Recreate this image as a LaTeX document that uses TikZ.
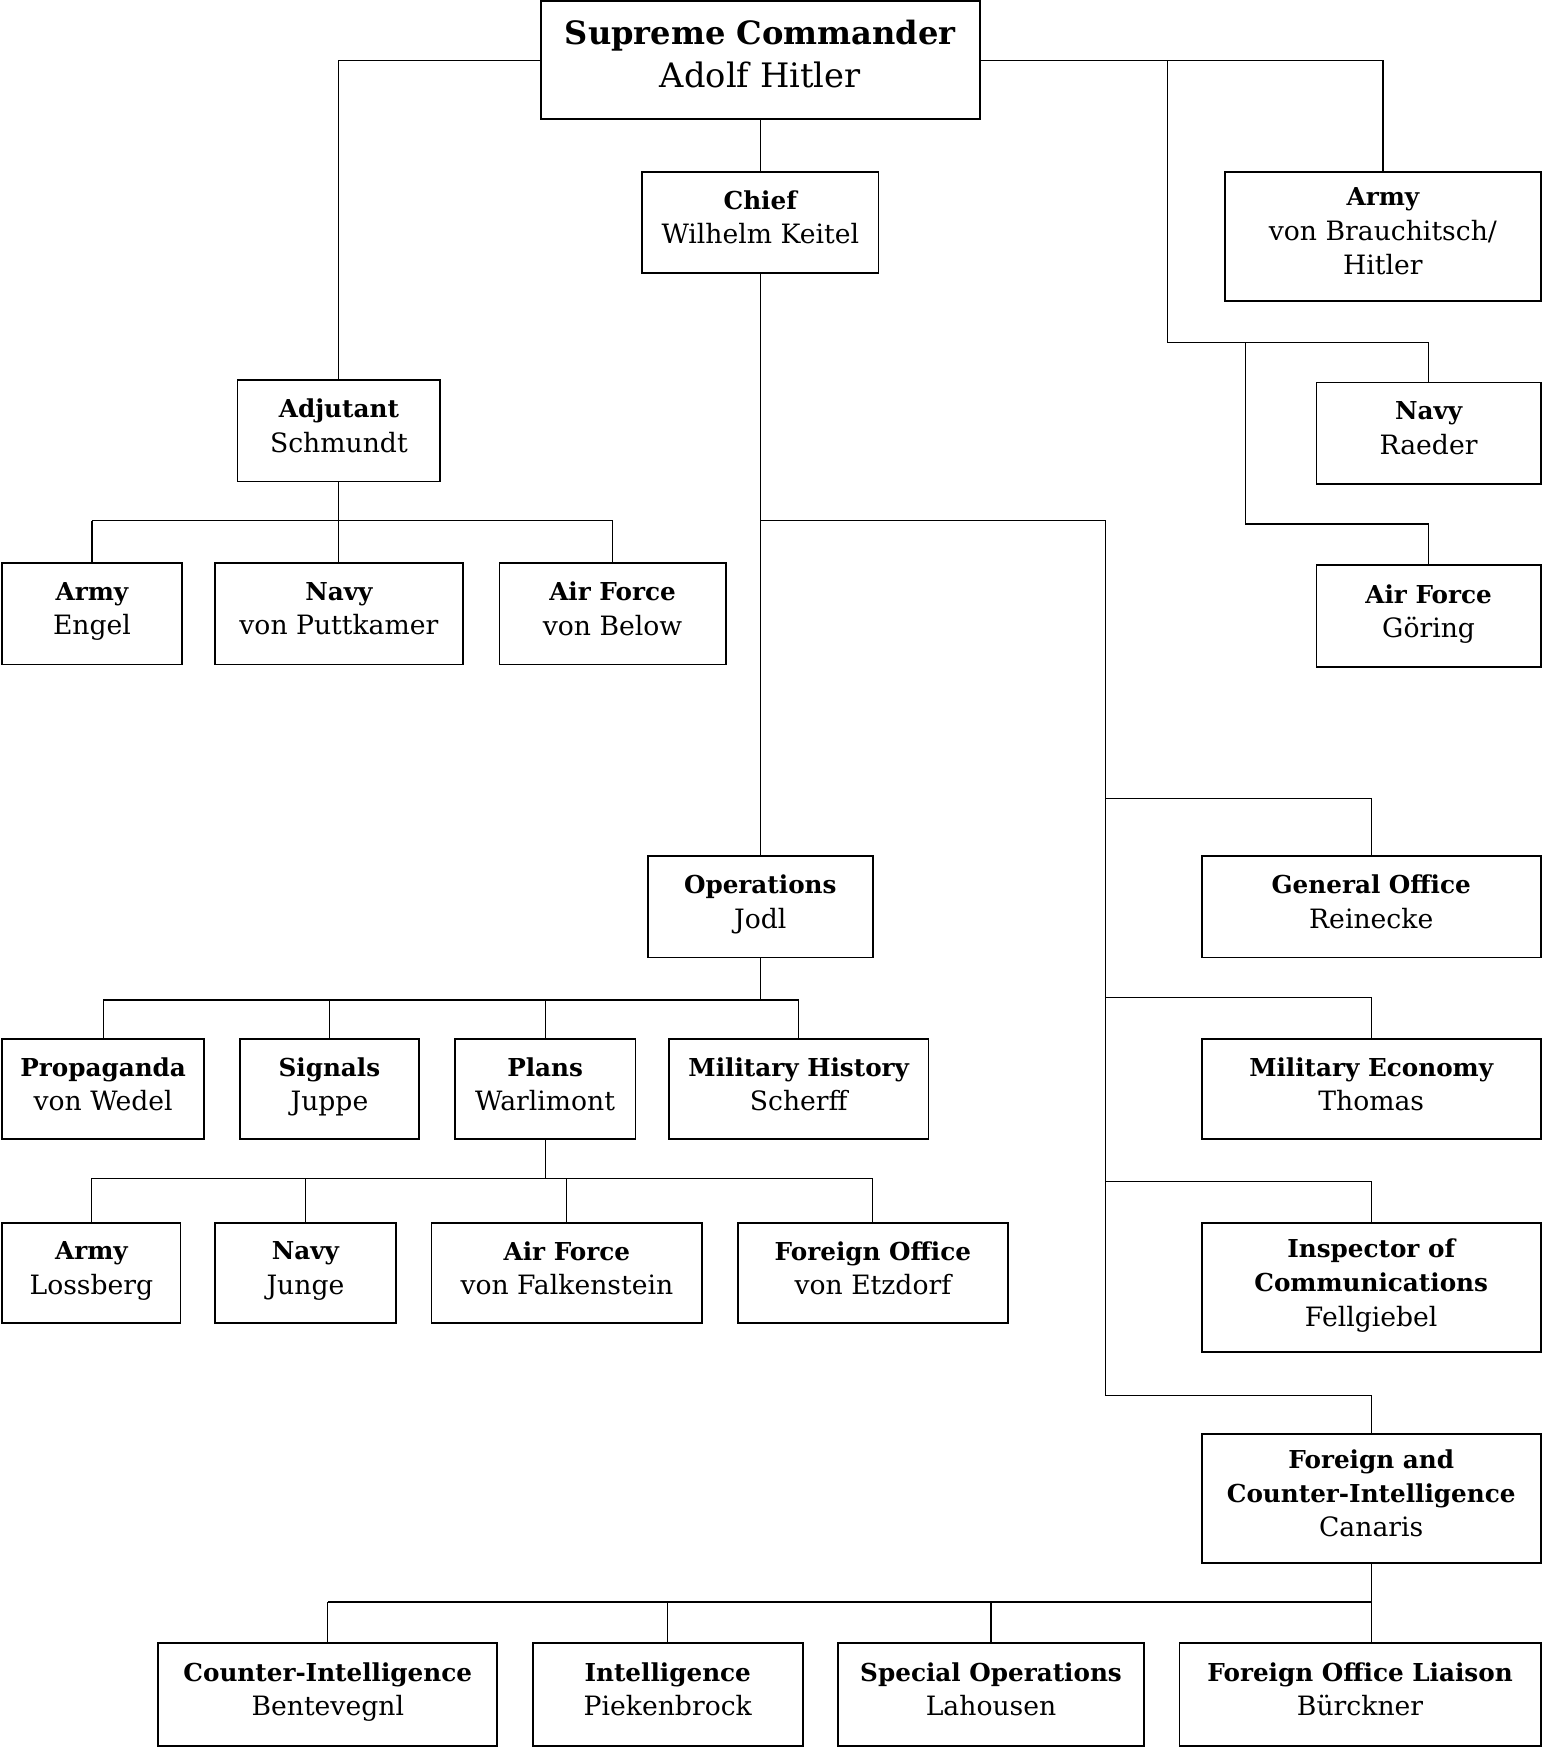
\documentclass[tikz,border=0pt]{standalone}
\usepackage{fontspec}
\setmainfont{DejaVu Serif}
\newcommand{\dept}[1]{{\fontsize{12.6}{17.5}\selectfont\bfseries #1}}
\tikzset{
  office/.style={draw, line width=0.9pt, align=center, inner sep=0pt,
    font=\fontsize{13.6}{17.5}\selectfont,
    execute at begin node=\strut, execute at end node=\strut},
  wire/.style={line width=0.6pt}
}
\begin{document}
\begin{tikzpicture}[x=0.02cm, y=-0.02cm]
\useasboundingbox (0,0) rectangle (1384,1568);

% Top level
\node[office, minimum width=7.88cm, minimum height=2.12cm, font=\fontsize{17.2}{22}\selectfont] (sup) at (682,54) {{\fontsize{16.4}{22}\selectfont\bfseries Supreme Commander}\\Adolf Hitler};
\node[office, minimum width=4.24cm, minimum height=1.82cm] (chief) at (682,199.5) {\dept{Chief}\\Wilhelm Keitel};
\node[office, minimum width=5.66cm, minimum height=2.32cm] (army) at (1240.5,212) {\dept{Army}\\von Brauchitsch/\\Hitler};
\node[office, minimum width=3.64cm, minimum height=1.82cm] (adj) at (304,386.5) {\dept{Adjutant}\\Schmundt};
\node[office, minimum width=4.02cm, minimum height=1.82cm] (navy) at (1281.5,388.5) {\dept{Navy}\\Raeder};
\node[office, minimum width=4.02cm, minimum height=1.82cm] (luft) at (1281.5,552.5) {\dept{Air Force}\\Göring};

% Adjutants
\node[office, minimum width=3.22cm, minimum height=1.82cm] (engel) at (82.5,550.5) {\dept{Army}\\Engel};
\node[office, minimum width=4.46cm, minimum height=1.82cm] (putt) at (304,550.5) {\dept{Navy}\\von Puttkamer};
\node[office, minimum width=4.06cm, minimum height=1.82cm] (below) at (549.5,550.5) {\dept{Air Force}\\von Below};

% Operations
\node[office, minimum width=4.04cm, minimum height=1.82cm] (jodl) at (682,813.5) {\dept{Operations}\\Jodl};
\node[office, minimum width=3.62cm, minimum height=1.80cm] (wedel) at (92.5,977) {\dept{Propaganda}\\von Wedel};
\node[office, minimum width=3.22cm, minimum height=1.80cm] (juppe) at (295.5,977) {\dept{Signals}\\Juppe};
\node[office, minimum width=3.24cm, minimum height=1.80cm] (warl) at (489,977) {\dept{Plans}\\Warlimont};
\node[office, minimum width=4.66cm, minimum height=1.80cm] (scherff) at (716.5,977) {\dept{Military History}\\Scherff};
\node[office, minimum width=3.20cm, minimum height=1.80cm] (loss) at (82,1142) {\dept{Army}\\Lossberg};
\node[office, minimum width=3.24cm, minimum height=1.80cm] (junge) at (274,1142) {\dept{Navy}\\Junge};
\node[office, minimum width=4.86cm, minimum height=1.80cm] (falk) at (508.5,1142) {\dept{Air Force}\\von Falkenstein};
\node[office, minimum width=4.84cm, minimum height=1.80cm] (etz) at (783,1142) {\dept{Foreign Office}\\von Etzdorf};

% Staff offices
\node[office, minimum width=6.08cm, minimum height=1.82cm] (rein) at (1230,813.5) {\dept{General Office}\\Reinecke};
\node[office, minimum width=6.08cm, minimum height=1.80cm] (thomas) at (1230,977) {\dept{Military Economy}\\Thomas};
\node[office, minimum width=6.08cm, minimum height=2.32cm] (fell) at (1230,1155) {\dept{Inspector of}\\\dept{Communications}\\Fellgiebel};
\node[office, minimum width=6.08cm, minimum height=2.32cm] (canaris) at (1230,1344) {\dept{Foreign and}\\\dept{Counter-Intelligence}\\Canaris};

% Abwehr
\node[office, minimum width=6.08cm, minimum height=1.84cm] (bent) at (294,1520) {\dept{Counter-Intelligence}\\Bentevegnl};
\node[office, minimum width=4.84cm, minimum height=1.84cm] (pieken) at (599,1520) {\dept{Intelligence}\\Piekenbrock};
\node[office, minimum width=5.48cm, minimum height=1.84cm] (lah) at (889,1520) {\dept{Special Operations}\\Lahousen};
\node[office, minimum width=6.48cm, minimum height=1.84cm] (buerck) at (1220,1520) {\dept{Foreign Office Liaison}\\Bürckner};

% Bus points
\coordinate (navybus) at (1047,307);
\coordinate (luftbus) at (1117,470);
\coordinate (adjbus) at (304,467);
\coordinate (opsbus) at (682,897);
\coordinate (plansbus) at (489,1057);
\coordinate (staff) at (992,467);
\coordinate (abwbus) at (1230,1437);

% Lines
\draw[wire] (sup.west) -| (adj.north);
\draw[wire] (sup.east) -| (army.north);
\draw[wire] (sup.east -| navybus) -- (navybus) -| (navy.north);
\draw[wire] (navybus -| luftbus) -- (luftbus) -| (luft.north);
\draw[wire] (sup) -- (chief);
\draw[wire] (chief) -- (jodl);

\draw[wire] (adj) -- (putt);
\draw[wire] (engel.north |- adjbus) -- (below.north |- adjbus);
\foreach \n in {engel, below}
  \draw[wire] (\n.north |- adjbus) -- (\n.north);

\draw[wire] (jodl) -- (jodl |- opsbus);
\draw[wire] (wedel.north |- opsbus) -- (scherff.north |- opsbus);
\foreach \n in {wedel, juppe, warl, scherff}
  \draw[wire] (\n.north |- opsbus) -- (\n.north);

\draw[wire] (warl) -- (warl |- plansbus);
\draw[wire] (loss.north |- plansbus) -- (etz.north |- plansbus);
\foreach \n in {loss, junge, falk, etz}
  \draw[wire] (\n.north |- plansbus) -- (\n.north);

\foreach \n/\y in {rein/716, thomas/895, fell/1060, canaris/1252} {
  \coordinate (\n-j) at (992,\y);
  \draw[wire] (\n-j) -| (\n.north);
}
\draw[wire] (chief |- staff) -- (staff) -- (canaris-j);

\draw[wire] (canaris) -- (canaris.south |- buerck.north);
\draw[wire] (bent.north |- abwbus) -- (abwbus);
\foreach \n in {bent, pieken, lah}
  \draw[wire] (\n.north |- abwbus) -- (\n.north);
\end{tikzpicture}
\end{document}
